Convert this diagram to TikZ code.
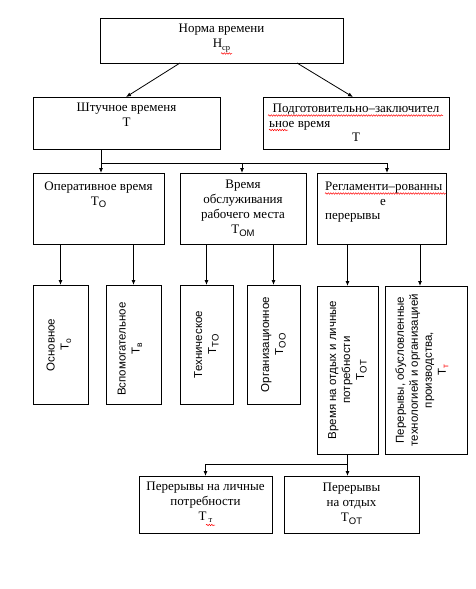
\documentclass[tikz,border=0pt]{standalone}
\usepackage{fontspec}
\setmainfont{Liberation Serif}
\setsansfont{Liberation Sans}
\usetikzlibrary{arrows.meta,decorations.pathmorphing}
\newcommand{\lowsub}[1]{\raisebox{-2.5pt}{\fontsize{8.5}{8.5}\selectfont #1}}
\newcommand{\lowsubsf}[1]{\raisebox{-2.5pt}{\sffamily\fontsize{9.5}{9.5}\selectfont #1}}
\begin{document}
\begin{tikzpicture}[x=1pt,y=-1pt,
  box/.style={draw, line width=0.8pt, inner sep=0pt, outer sep=0pt},
  arr/.style={line width=0.8pt, -{Latex[length=5pt,width=4pt]}},
  ln/.style={line width=0.8pt},
  txt/.style={font=\fontsize{13}{15}\selectfont, align=center, inner sep=0pt, anchor=north},
  ltxt/.style={font=\fontsize{13}{15}\selectfont, inner sep=0pt},
  rtxt/.style={font=\sffamily\fontsize{11.5}{14}\selectfont, align=center, inner sep=0pt, rotate=90},
  wavy/.style={red, line width=0.5pt, decorate, decoration={snake, amplitude=0.7pt, segment length=2.5pt}}
]
\useasboundingbox (0,0) rectangle (476,589);

% boxes
\node[box, minimum width=243pt, minimum height=45pt] (norm) at (221.5,40.5) {};
\node[box, minimum width=187pt, minimum height=52pt] (sht) at (126.5,123) {};
\node[box, minimum width=186pt, minimum height=52pt] (pod) at (356,123) {};
\node[box, minimum width=131pt, minimum height=71pt] (op) at (98.5,208.5) {};
\node[box, minimum width=126pt, minimum height=71pt] (obs) at (243,208.5) {};
\node[box, minimum width=129pt, minimum height=71pt] (reg) at (381.5,208.5) {};
\node[box, minimum width=55pt, minimum height=119pt] (A) at (60.5,344.5) {};
\node[box, minimum width=55pt, minimum height=119pt] (B) at (133.5,344.5) {};
\node[box, minimum width=53pt, minimum height=119pt] (C) at (206.5,344.5) {};
\node[box, minimum width=53pt, minimum height=119pt] (D) at (273.5,344.5) {};
\node[box, minimum width=61pt, minimum height=168pt] (E) at (347.5,370) {};
\node[box, minimum width=82pt, minimum height=168pt] (F) at (426,370) {};
\node[box, minimum width=133pt, minimum height=57pt] (G) at (205.5,504.5) {};
\node[box, minimum width=135pt, minimum height=57pt] (H) at (351.5,504.5) {};

% texts
\node[txt] (tnorm) at (221.5,24) {Норма времени\\Н\lowsub{ср}};
\node[txt] (tsht) at (126.5,103) {Штучное временя\\Т};
\node[ltxt, anchor=base] (tpod1) at (356,112.5) {Подготовительно–заключител};
\node[ltxt, anchor=base west] (tpod2) at (269,127) {ьное время};
\node[ltxt, anchor=base] (tpod3) at (356,141) {Т};
\node[txt] (top) at (98.5,181.5) {Оперативное время\\Т\lowsubsf{О}};
\node[txt] (tobs) at (243,180) {Время\\обслуживания\\рабочего места\\Т\lowsubsf{ОМ}};
\node[ltxt, anchor=base west] (treg1) at (325,190) {Регламенти–рованны};
\node[ltxt, anchor=base] (treg2) at (383,205) {е};
\node[ltxt, anchor=base west] (treg3) at (325,219) {перерывы};
\node[rtxt] (tA) at (59,345) {Основное\\Т\lowsub{о}};
\node[rtxt] (tB) at (130,349) {Вспомогательное\\Т\lowsub{в}};
\node[rtxt] (tC) at (206.5,344.5) {Техническое\\Т\lowsubsf{ТО}};
\node[rtxt] (tD) at (273.5,344.5) {Организационное\\Т\lowsubsf{ОО}};
\node[rtxt] (tE) at (347.5,370) {Время на отдых и личные\\потребности\\Т\lowsubsf{ОТ}};
\node[rtxt] (tF) at (422,370) {Перерывы, обусловленные\\технологией и организацией\\производства,\\Т\lowsub{\textcolor{red}{т}}};
\node[txt] (tG) at (205.5,481.5) {Перерывы на личные\\потребности\\Т\,\lowsub{т}};
\node[txt] (tH) at (351.5,483) {Перерывы\\на отдых\\Т\lowsubsf{ОТ}};

% spell-check marks
\draw[wavy] (221,53.5) -- (232,53.5);
\draw[wavy] (268,115.5) -- (443,115.5);
\draw[wavy] (269,130) -- (288,130);
\draw[wavy] (325,193.5) -- (446,193.5);
\draw[wavy] (206,525) -- (215,525);

% connectors
\draw[arr] ([xshift=80pt]norm.south west) -- ([xshift=93pt]sht.north west);
\draw[arr] ([xshift=197pt]norm.south west) -- ([xshift=90pt]pod.north west);
\coordinate (b1) at (101,163);
\coordinate (b3) at (242,163);
\coordinate (b2) at (387,163);
\draw[ln] (sht.south -| b1) -- (b1) -- (b2);
\draw[arr] (b1) -- (b1 |- op.north);
\draw[arr] (b3) -- (b3 |- obs.north);
\draw[arr] (b2) -- (b2 |- reg.north);
\draw[arr] (A.north |- op.south) -- (A.north);
\draw[arr] (B.north |- op.south) -- (B.north);
\draw[arr] (C.north |- obs.south) -- (C.north);
\draw[arr] (D.north |- obs.south) -- (D.north);
\draw[arr] (E.north |- reg.south) -- (E.north);
\draw[arr] ([xshift=-6pt]F.north |- reg.south) -- ([xshift=-6pt]F.north);
\coordinate (e1) at (347.5,464);
\draw[ln] (E.south) -- (e1);
\draw[arr] (e1) -- (H.north -| e1);
\draw[arr] (e1) -| (G.north);
\end{tikzpicture}
\end{document}
